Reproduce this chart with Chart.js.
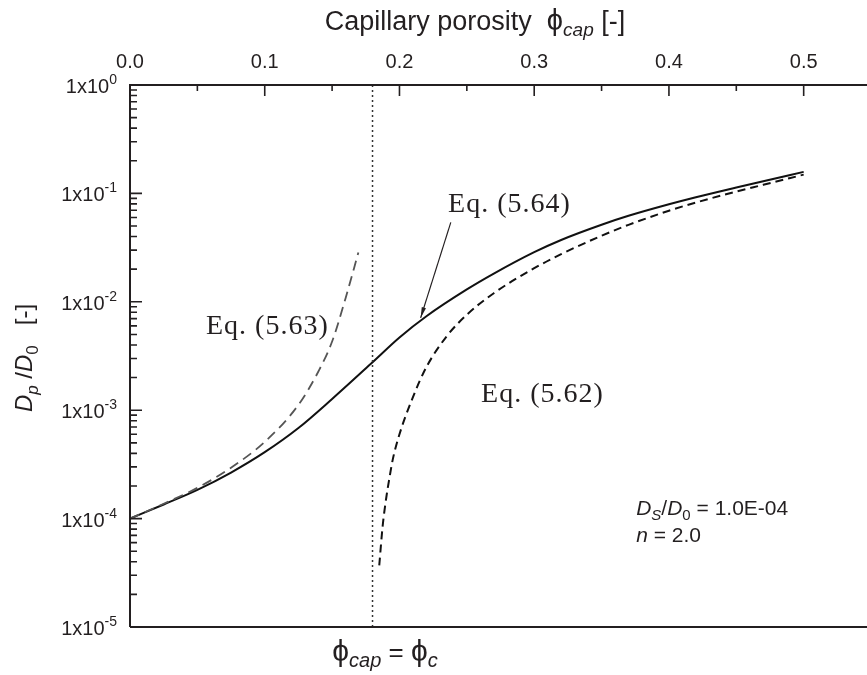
<!DOCTYPE html>
<html>
<head>
<meta charset="utf-8">
<script src="https://cdn.jsdelivr.net/npm/chart.js@4.4.1/dist/chart.umd.min.js"></script>
<style>
  body { margin: 0; background: #fff; }
  #wrap { width: 867px; height: 675px; }
</style>
</head>
<body>
<div id="wrap"><canvas id="chart"></canvas></div>
<script>
// Eq. (5.64) - solid curve
const phi64 = [0, 0.025, 0.05, 0.075, 0.10, 0.125, 0.15, 0.18, 0.20, 0.22, 0.25, 0.27, 0.30, 0.32, 0.35, 0.37, 0.40, 0.42, 0.45, 0.47, 0.50];
const dp64 = [1.0e-4, 1.35e-4, 1.84e-4, 2.66e-4, 4.1e-4, 6.85e-4, 1.27e-3, 2.77e-3, 4.69e-3, 7.36e-3, 1.30e-2, 1.82e-2, 2.87e-2, 3.72e-2, 5.14e-2, 6.21e-2, 7.93e-2, 9.21e-2, 0.1133, 0.1296, 0.158];

// Eq. (5.62) - dashed, starts just above phi_c
const phi62 = [0.185, 0.1875, 0.19, 0.1925, 0.195, 0.20, 0.21, 0.22, 0.235, 0.25, 0.27, 0.30, 0.32, 0.35, 0.37, 0.40, 0.42, 0.45, 0.47, 0.50];
const dp62 = [3.7e-5, 8.5e-5, 1.5e-4, 2.35e-4, 3.5e-4, 6.0e-4, 1.32e-3, 2.5e-3, 4.8e-3, 7.6e-3, 1.2e-2, 2.04e-2, 2.75e-2, 4.07e-2, 5.13e-2, 6.92e-2, 8.24e-2, 0.104, 0.12, 0.149];

// Eq. (5.63) - grey dashed, below phi_c
const phi63 = [0, 0.025, 0.05, 0.075, 0.10, 0.125, 0.14, 0.15, 0.16, 0.1695];
const dp63 = [1.0e-4, 1.37e-4, 1.92e-4, 2.95e-4, 5.1e-4, 1.12e-3, 2.3e-3, 4.3e-3, 1.08e-2, 2.85e-2];

const phiC = 0.18;
const xTicks = [0, 0.1, 0.2, 0.3, 0.4, 0.5];
const xTickLabels = ['0.0', '0.1', '0.2', '0.3', '0.4', '0.5'];
const xMinorTicks = [0.05, 0.15, 0.25, 0.35, 0.45];
const yDecades = [-5, -4, -3, -2, -1, 0];

const SANS = '"Liberation Sans", Arial, sans-serif';
const SERIF = '"Liberation Serif", "Times New Roman", serif';

function pts(xs, ys) {
    return xs.map((x, i) => ({ x: x, y: ys[i] }));
}

// draws a run of text pieces [text, font, dy] one after another
function drawParts(ctx, parts, x, y, align) {
    let w = 0;
    parts.forEach(p => { ctx.font = p[1]; w += ctx.measureText(p[0]).width; });
    let cx = x;
    if (align === 'right') cx = x - w;
    if (align === 'center') cx = x - w / 2;
    parts.forEach(p => {
        ctx.font = p[1];
        ctx.fillText(p[0], cx, y + (p[2] || 0));
        cx += ctx.measureText(p[0]).width;
    });
}

const framePlugin = {
    id: 'frame',
    afterDatasetsDraw(chart) {
        const ctx = chart.ctx;
        const a = chart.chartArea;
        const xs = chart.scales.x;
        const ys = chart.scales.y;
        ctx.save();
        ctx.strokeStyle = '#231f20';
        ctx.fillStyle = '#231f20';
        ctx.lineWidth = 2;
        ctx.setLineDash([]);

        // axis lines (left, top, bottom)
        ctx.beginPath();
        ctx.moveTo(a.left, a.bottom);
        ctx.lineTo(a.left, a.top);
        ctx.lineTo(a.right, a.top);
        ctx.moveTo(a.left, a.bottom);
        ctx.lineTo(a.right, a.bottom);
        ctx.stroke();

        // top axis ticks, pointing inward
        ctx.lineWidth = 1.6;
        ctx.beginPath();
        xTicks.forEach(v => {
            const px = xs.getPixelForValue(v);
            ctx.moveTo(px, a.top);
            ctx.lineTo(px, a.top + 11);
        });
        xMinorTicks.forEach(v => {
            const px = xs.getPixelForValue(v);
            ctx.moveTo(px, a.top);
            ctx.lineTo(px, a.top + 6);
        });
        // left axis ticks
        yDecades.forEach(k => {
            const py = ys.getPixelForValue(Math.pow(10, k));
            ctx.moveTo(a.left, py);
            ctx.lineTo(a.left + 12, py);
            if (k < 0) {
                for (let m = 2; m <= 9; m++) {
                    const pm = ys.getPixelForValue(m * Math.pow(10, k));
                    ctx.moveTo(a.left, pm);
                    ctx.lineTo(a.left + 7, pm);
                }
            }
        });
        ctx.stroke();

        // tick labels
        ctx.textAlign = 'left';
        ctx.textBaseline = 'alphabetic';
        xTicks.forEach((v, i) => {
            drawParts(ctx, [[xTickLabels[i], '20px ' + SANS]], xs.getPixelForValue(v), a.top - 17, 'center');
        });
        yDecades.forEach(k => {
            const py = ys.getPixelForValue(Math.pow(10, k));
            drawParts(ctx, [['1x10', '20px ' + SANS], [String(k), '14px ' + SANS, -9]], a.left - 13, py + 8, 'right');
        });

        // axis titles
        drawParts(ctx, [
            ['Capillary porosity  ', '27px ' + SANS],
            ['\u03D5', '29px ' + SANS],
            ['cap', 'italic 19px ' + SANS, 6],
            [' [-]', '27px ' + SANS]
        ], 475, 30, 'center');

        ctx.save();
        ctx.translate(32, 358);
        ctx.rotate(-Math.PI / 2);
        drawParts(ctx, [
            ['D', 'italic 24px ' + SANS],
            ['p', 'italic 17px ' + SANS, 6],
            [' /', '24px ' + SANS],
            ['D', 'italic 24px ' + SANS],
            ['0', '17px ' + SANS, 6],
            ['   [-]', '24px ' + SANS]
        ], 0, 0, 'center');
        ctx.restore();

        drawParts(ctx, [
            ['\u03D5', '30px ' + SANS],
            ['cap', 'italic 20px ' + SANS, 6],
            [' = ', '26px ' + SANS],
            ['\u03D5', '30px ' + SANS],
            ['c', 'italic 20px ' + SANS, 6]
        ], 385, 661, 'center');

        // equation labels
        ctx.letterSpacing = '1px';
        const eqFont = '28px ' + SERIF;
        drawParts(ctx, [['Eq. (5.63)', eqFont]], xs.getPixelForValue(0.0564), ys.getPixelForValue(5.05e-3), 'left');
        drawParts(ctx, [['Eq. (5.64)', eqFont]], xs.getPixelForValue(0.2361), ys.getPixelForValue(0.067), 'left');
        drawParts(ctx, [['Eq. (5.62)', eqFont]], xs.getPixelForValue(0.2606), ys.getPixelForValue(1.2e-3), 'left');
        ctx.letterSpacing = '0px';

        // arrow to the Eq. (5.64) curve
        const x0 = xs.getPixelForValue(0.2381), y0 = ys.getPixelForValue(0.054);
        const x1 = xs.getPixelForValue(0.2157), y1 = ys.getPixelForValue(7.1e-3);
        ctx.lineWidth = 1.2;
        ctx.beginPath();
        ctx.moveTo(x0, y0);
        ctx.lineTo(x1, y1);
        ctx.stroke();
        const ang = Math.atan2(y1 - y0, x1 - x0);
        ctx.beginPath();
        ctx.moveTo(x1, y1);
        ctx.lineTo(x1 - 11 * Math.cos(ang - 0.2), y1 - 11 * Math.sin(ang - 0.2));
        ctx.lineTo(x1 - 11 * Math.cos(ang + 0.2), y1 - 11 * Math.sin(ang + 0.2));
        ctx.closePath();
        ctx.fill();

        // parameter note
        const lx = xs.getPixelForValue(0.3757);
        drawParts(ctx, [
            ['D', 'italic 21px ' + SANS],
            ['S', 'italic 15px ' + SANS, 5],
            ['/', '21px ' + SANS],
            ['D', 'italic 21px ' + SANS],
            ['0', '15px ' + SANS, 5],
            [' = 1.0E-04', '21px ' + SANS]
        ], lx, ys.getPixelForValue(1.08e-4), 'left');
        drawParts(ctx, [
            ['n', 'italic 21px ' + SANS],
            [' = 2.0', '21px ' + SANS]
        ], lx, ys.getPixelForValue(6.1e-5), 'left');

        ctx.restore();
    }
};

new Chart(document.getElementById('chart'), {
    type: 'scatter',
    data: {
        datasets: [
            {
                label: 'phi_c',
                data: pts([phiC, phiC], [1e-5, 1]),
                showLine: true,
                borderColor: '#333',
                borderWidth: 1.5,
                borderDash: [2, 3],
                pointRadius: 0
            },
            {
                label: 'Eq. (5.63)',
                data: pts(phi63, dp63),
                showLine: true,
                borderColor: '#555',
                borderWidth: 1.8,
                borderDash: [10, 6],
                pointRadius: 0,
                cubicInterpolationMode: 'monotone'
            },
            {
                label: 'Eq. (5.62)',
                data: pts(phi62, dp62),
                showLine: true,
                borderColor: '#111',
                borderWidth: 2,
                borderDash: [8, 5],
                pointRadius: 0,
                cubicInterpolationMode: 'monotone'
            },
            {
                label: 'Eq. (5.64)',
                data: pts(phi64, dp64),
                showLine: true,
                borderColor: '#111',
                borderWidth: 2,
                pointRadius: 0,
                cubicInterpolationMode: 'monotone'
            }
        ]
    },
    options: {
        responsive: true,
        maintainAspectRatio: false,
        animation: false,
        events: [],
        layout: { padding: { left: 130, top: 85, right: 0, bottom: 48 } },
        plugins: { legend: { display: false }, tooltip: { enabled: false } },
        scales: {
            x: { type: 'linear', display: false, min: 0, max: 0.547 },
            y: { type: 'logarithmic', display: false, min: 1e-5, max: 1 }
        }
    },
    plugins: [framePlugin]
});
</script>
</body>
</html>
